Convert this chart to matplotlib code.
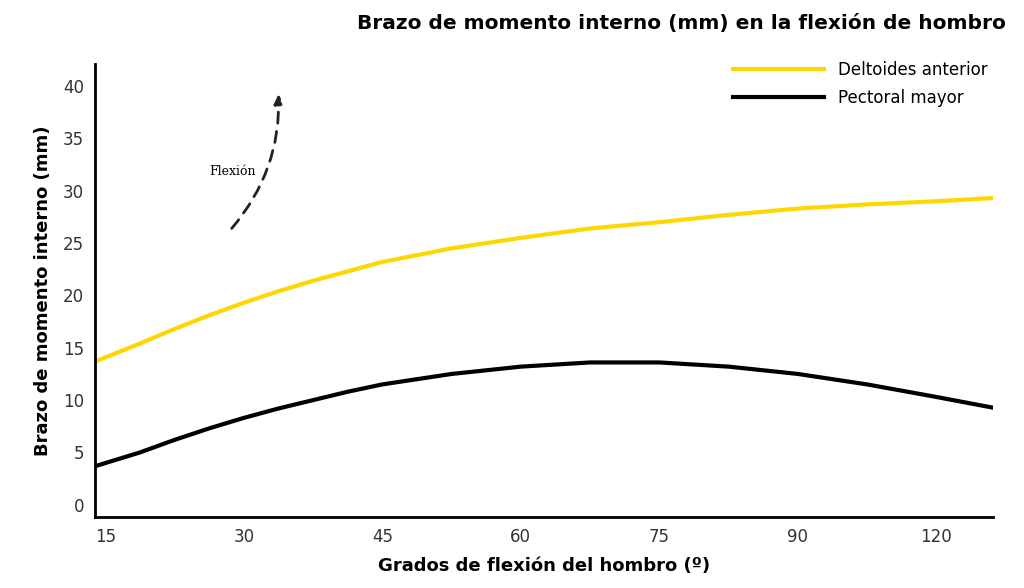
import matplotlib
matplotlib.use("Agg")
import matplotlib.pyplot as plt
from matplotlib.patches import FancyArrowPatch

tick_labels = ["15", "30", "45", "60", "75", "90", "120"]
x_pos = [-0.07, 0.25, 0.5, 0.75, 1.0, 1.25, 1.5, 1.75, 2.0, 2.5, 3.0, 3.5, 4.0, 4.5, 5.0, 5.5, 6.0, 6.4]
deltoides = [13.7, 15.4, 16.8, 18.1, 19.3, 20.4, 21.4, 22.3, 23.2, 24.5, 25.5, 26.4, 27.0, 27.7, 28.3, 28.7, 29.0, 29.3]
pectoral = [3.7, 5.0, 6.2, 7.3, 8.3, 9.2, 10.0, 10.8, 11.5, 12.5, 13.2, 13.6, 13.6, 13.2, 12.5, 11.5, 10.3, 9.3]

fig = plt.figure(figsize=(10.24, 5.88), dpi=100)
ax = fig.add_axes([0.093, 0.121, 0.877, 0.77])
ax.plot(x_pos, deltoides, color="#FFD700", lw=3, label="Deltoides anterior")
ax.plot(x_pos, pectoral, color="black", lw=3, label="Pectoral mayor")
ax.set_xlim(-0.072, 6.41)
ax.set_ylim(-1.15, 42.1)
ax.set_xticks(range(len(tick_labels)))
ax.set_xticklabels(tick_labels)
ax.set_yticks(range(0, 41, 5))
ax.tick_params(length=0, labelsize=12, colors="#333333", pad=8)
for s in ["top", "right"]:
    ax.spines[s].set_visible(False)
for s in ["left", "bottom"]:
    ax.spines[s].set_linewidth(2)
ax.set_xlabel("Grados de flexión del hombro (º)", fontsize=13, fontweight="bold", labelpad=8)
ax.set_ylabel("Brazo de momento interno (mm)", fontsize=13, fontweight="bold", labelpad=8)
fig.text(0.982, 0.96, "Brazo de momento interno (mm) en la flexión de hombro",
         ha="right", va="center", fontsize=14.5, fontweight="bold")
ax.legend(loc="upper right", bbox_to_anchor=(1.01, 1.04), frameon=False,
          handlelength=5.5, labelspacing=0.6, prop={"size": 12})
ax.text(0.75, 31.5, "Flexión", fontsize=9, family="DejaVu Serif")
arc = FancyArrowPatch((0.9, 26.2), (1.25, 39.5), connectionstyle="arc3,rad=0.2",
                      arrowstyle="-|>", mutation_scale=14, lw=2, ls=(0, (4, 3)), color="#222222")
ax.add_patch(arc)
fig.savefig("out.png", dpi=100)
